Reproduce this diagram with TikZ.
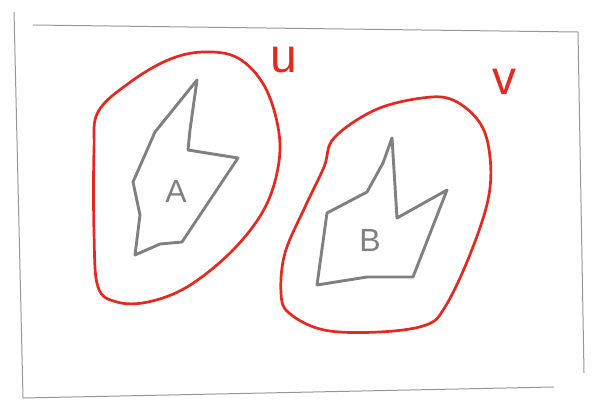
\documentclass[tikz,border=0pt]{standalone}
\usepackage{fontspec}
\setmainfont{Liberation Sans}
\definecolor{setred}{RGB}{232,40,30}
\definecolor{pencilgray}{RGB}{128,128,128}
\definecolor{framegray}{RGB}{150,150,150}
\begin{document}
\begin{tikzpicture}[x=1pt,y=-1pt,
  frame/.style={draw=framegray,line width=1pt,line join=round},
  redset/.style={draw=setred,line width=2.7pt,line join=round},
  pencil/.style={draw=pencilgray,line width=2.9pt,line join=round,line cap=round},
  redlbl/.style={text=setred,font=\fontsize{48}{48}\selectfont,inner sep=0pt},
  graylbl/.style={text=pencilgray,font=\fontsize{32}{32}\selectfont,inner sep=0pt}]
\useasboundingbox (0,0) rectangle (605,416);
% outer frame
\draw[frame] (14,12) -- (23,398) -- (554,387);
\draw[frame] (33,25) -- (578,32) -- (584,373);
% set U
\draw[redset] plot[smooth cycle,tension=0.6] coordinates {
 (98,112) (129,83) (168,60) (203,52) (238,58) (265,87) (279,133) (277,173)
 (262,213) (230,253) (187,287) (148,302) (117,302) (98,287) (94,233) (94,150)};
% set V
\draw[redset] plot[smooth cycle,tension=0.6] coordinates {
 (334,138) (375,110) (422,98) (453,100) (480,123) (490,157) (488,200)
 (469,257) (445,307) (426,325) (379,332) (324,330) (289,313) (281,293)
 (285,253) (305,207) (324,167)};
% polygon A
\draw[pencil] (197,80) -- (190,130) -- (188,150) -- (238,158) -- (182,242)
  -- (160,244) -- (135,255) -- (140,215) -- (133,182) -- (155,132) -- cycle;
% polygon B
\draw[pencil] (392,138) -- (397,218) -- (447,190) -- (413,277) -- (367,277)
  -- (317,285) -- (327,213) -- (367,192) -- (383,163) -- cycle;
% labels
\node[graylbl] (la) at (176,191) {A};
\node[graylbl] (lb) at (370,240) {B};
\node[redlbl] (lu) at (284,60) {u};
\node[redlbl] (lv) at (504,82) {v};
\end{tikzpicture}
\end{document}
